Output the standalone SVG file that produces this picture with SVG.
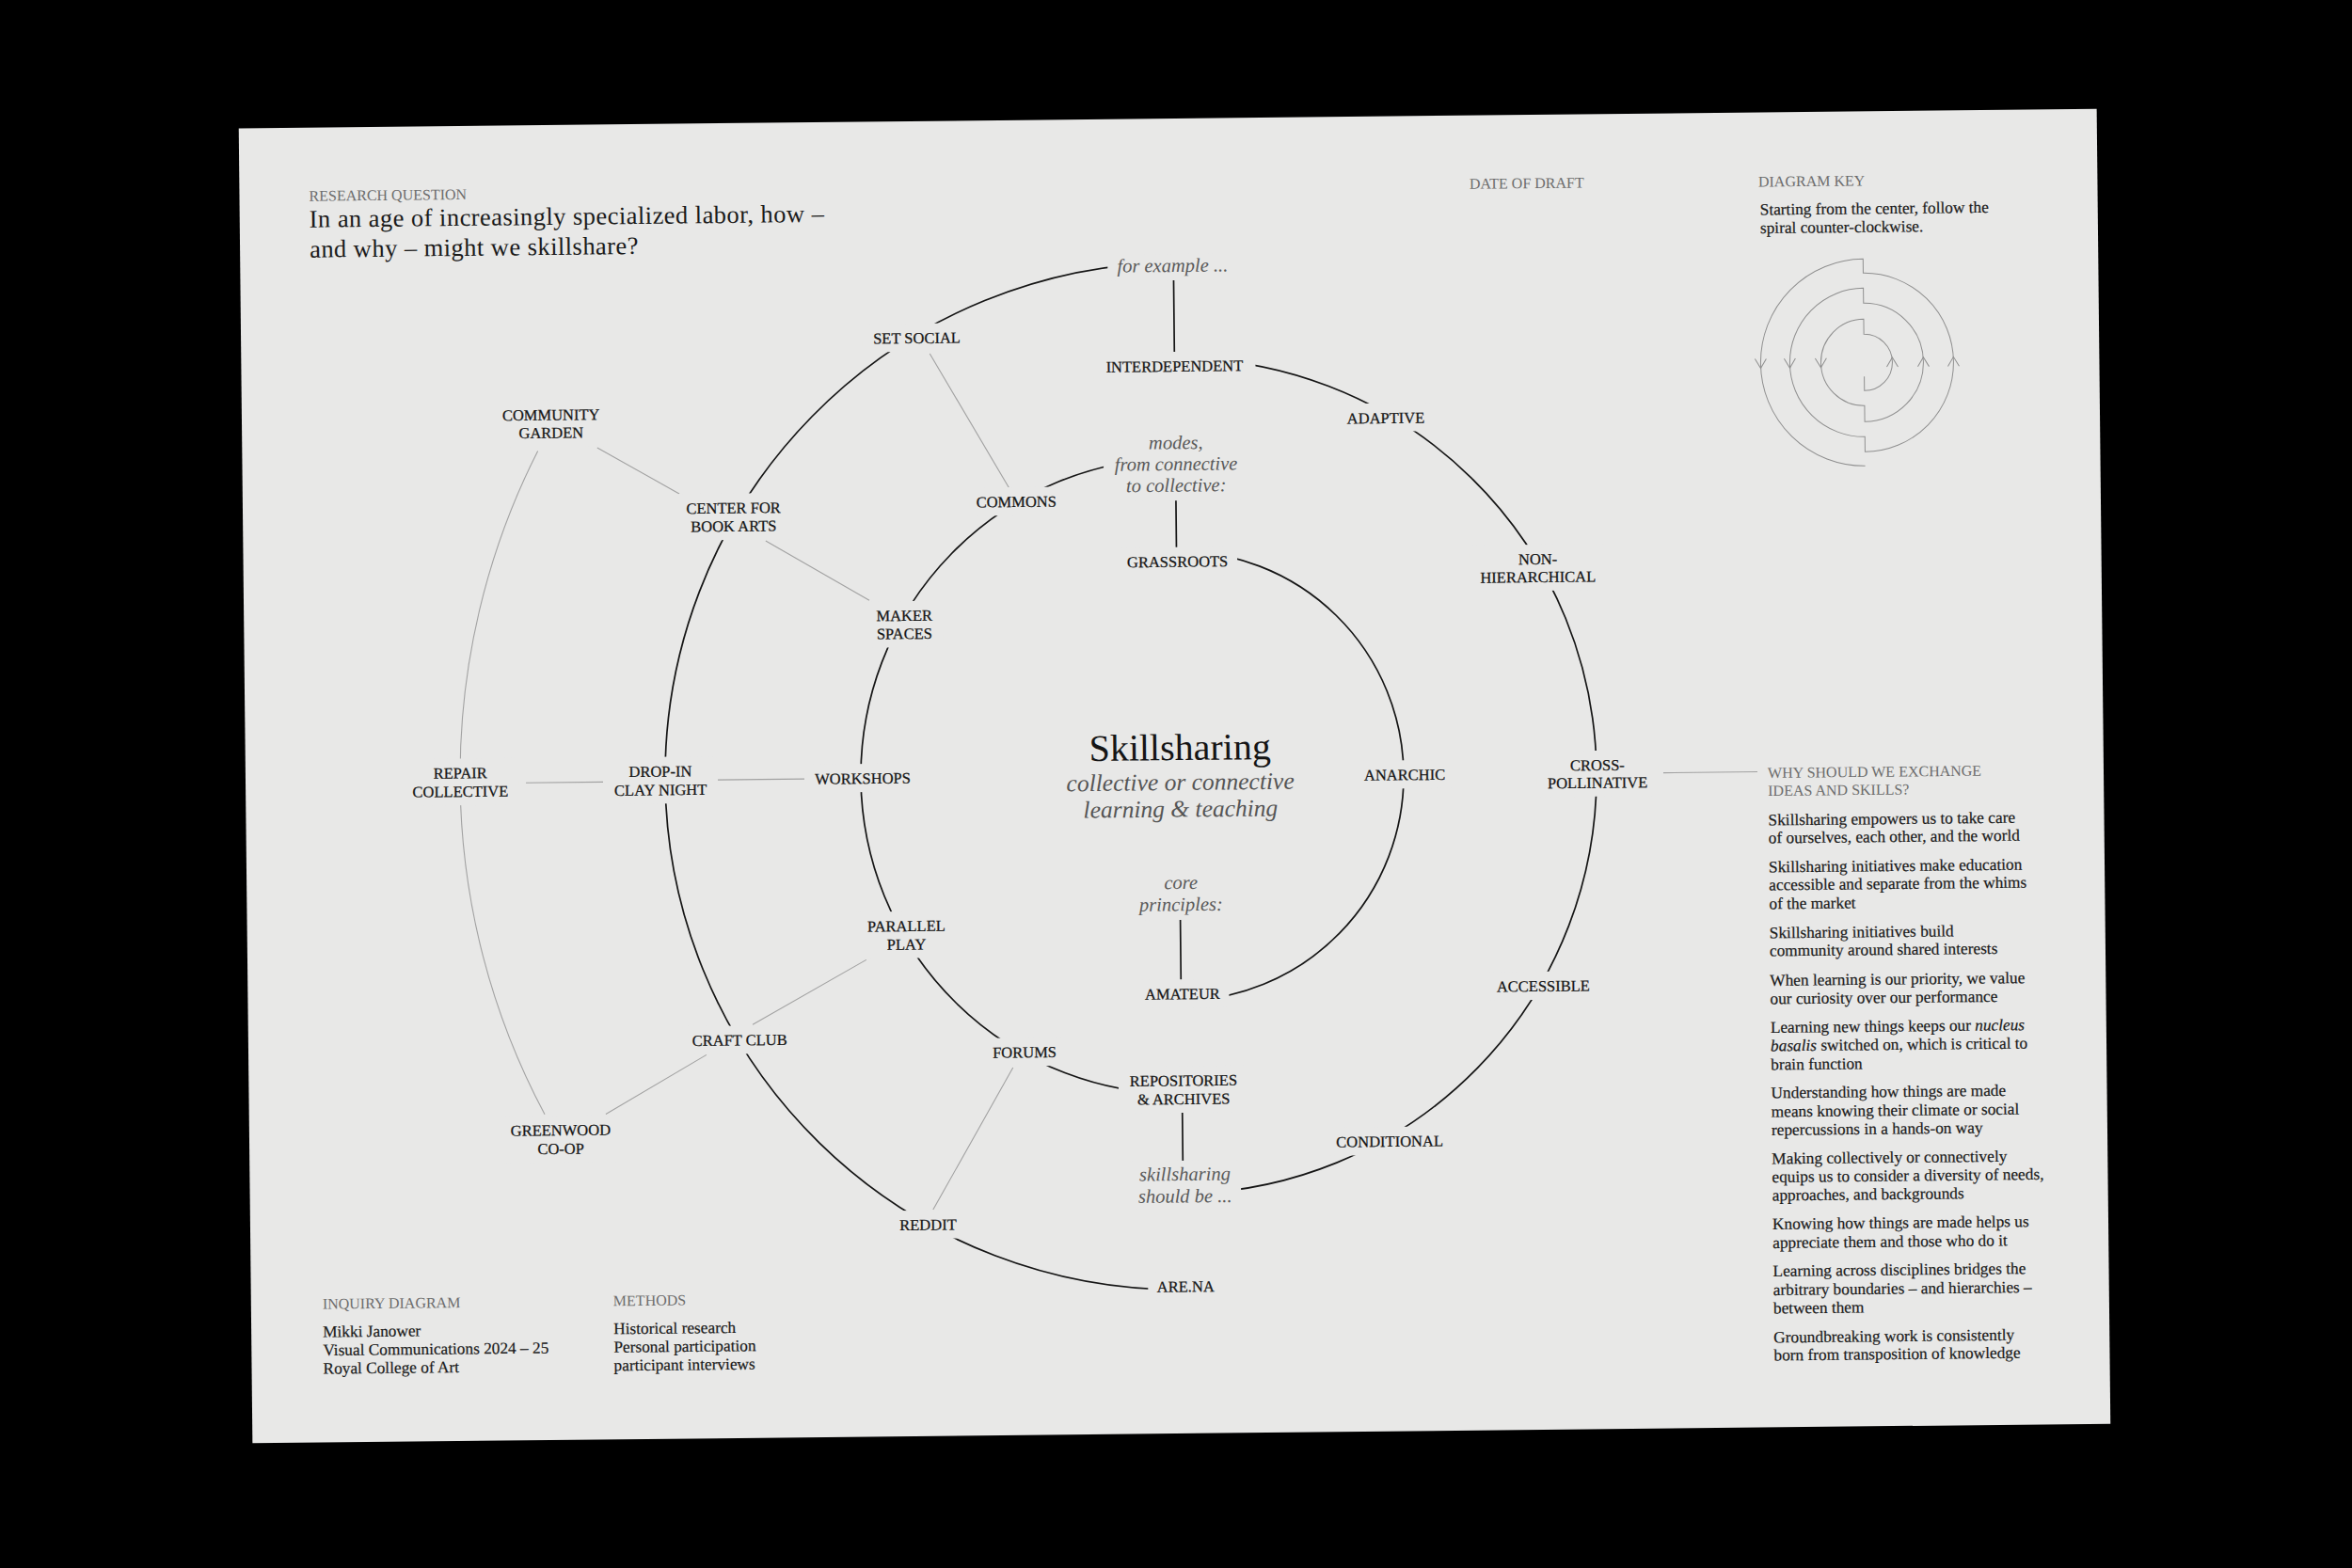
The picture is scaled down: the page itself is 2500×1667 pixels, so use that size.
<svg xmlns="http://www.w3.org/2000/svg" width="2500" height="1667" viewBox="0 0 2500 1667">
<style>
  .paper{fill:#e8e8e7}
  .ko{fill:#e8e8e7}
  text{font-family:'Liberation Serif','Times New Roman',serif}
  .lbl{font-size:16.5px;fill:#161616;stroke:#161616;stroke-width:0.25;text-anchor:middle}
  .it{font-style:italic;font-size:20.5px;fill:#5a5a5a;text-anchor:middle}
  .head{font-size:16px;fill:#6d6d6d}
  .body{font-size:17.3px;fill:#1b1b1b;stroke:#1b1b1b;stroke-width:0.2}
  .arc{fill:none;stroke:#151515;stroke-width:1.7}
  .thin{fill:none;stroke:#a2a2a2;stroke-width:1.1}
  .key{fill:none;stroke:#8f8f8f;stroke-width:1}
</style>
<rect width="2500" height="1667" fill="#000"/>
<g transform="rotate(-0.6 1253 825)">
  <rect class="paper" x="261" y="126" width="1975" height="1398"/>

  <!-- header -->
  <g id="research-question">
    <text class="head" x="335" y="204">RESEARCH QUESTION</text>
    <text x="335" y="232" font-size="26.5" fill="#1b1b1b" letter-spacing="0.45">In an age of increasingly specialized labor, how –</text>
    <text x="335" y="264" font-size="26.5" fill="#1b1b1b" letter-spacing="0.45">and why – might we skillshare?</text>
  </g>
  <text class="head" x="1568.5" y="204">DATE OF DRAFT</text>

  <!-- key -->
  <g id="diagram-key">
    <text class="head" x="1875.5" y="205">DIAGRAM KEY</text>
    <text class="body" x="1877" y="235">Starting from the center, follow the</text>
    <text class="body" x="1877" y="254.5">spiral counter-clockwise.</text>
    <path class="key" d="M1986,408 V423 A30,30 0 0 0 1986,363 V347 A46,46 0 0 0 1986,439 V456 A63,63 0 0 0 1986,330 V314 A79,79 0 0 0 1986,472 V488 A95,95 0 0 0 1986,298 V283 A110,110 0 0 0 1986,503"/>
    <path class="key" d="M2010,398 L2016,388 L2022,398 M2043,398 L2049,388 L2055,398 M2075,398 L2081,388 L2087,398 M1934,388 L1940,398 L1946,388 M1901,388 L1907,398 L1913,388 M1870,388 L1876,398 L1882,388"/>
  </g>

  <!-- connectors: spiral arcs, spokes and thin branch lines -->
  <g id="connectors">
    <path class="arc" d="M1253,1064 A239,239 0 0 0 1253,586"/>
    <path class="arc" d="M1253,487 A338,338 0 0 0 1253,1163"/>
    <path class="arc" d="M1253,1269 A444,444 0 0 0 1253,381"/>
    <path class="arc" d="M1253,279 A546,546 0 0 0 1253,1371"/>
    <path class="arc" d="M1253,298 V374 M1253,532 V582 M1253,978 V1042 M1253,1183 V1234"/>
    <path class="thin" d="M575.3,472.3 A764,764 0 0 0 575.3,1177.7"/>
    <path class="thin" d="M993,373.2 L1075.5,516.4 M638.5,469.5 L725.2,519.4 M816.5,570.4 L926,634.8 M559,825 L641,825 M763,824 L855,824 M918.8,1016.9 L797.3,1084.5 M747.9,1116.1 L640.2,1178.2 M1073.5,1133.2 L987,1283.3 M1768,827 L1868,827"/>
  </g>

  <!-- nodes -->
  <g id="nodes">
    <g id="n-for-example"><rect class="ko" x="1183" y="270" width="138" height="28"/><text class="it" x="1252" y="289">for example ...</text></g>
    <g id="n-interdependent"><rect class="ko" x="1167" y="374" width="172" height="30"/><text class="lbl" x="1253" y="395">INTERDEPENDENT</text></g>
    <g id="n-adaptive"><rect class="ko" x="1426" y="431" width="102" height="30"/><text class="lbl" x="1477" y="452.3">ADAPTIVE</text></g>
    <g id="n-non-hierarchical"><rect class="ko" x="1564" y="583" width="146" height="49"/><text class="lbl" x="1637" y="604">NON-</text><text class="lbl" x="1637" y="623">HIERARCHICAL</text></g>
    <g id="n-cross-pollinative"><rect class="ko" x="1633.5" y="802.7" width="129" height="48.7"/><text class="lbl" x="1698" y="823.7">CROSS-</text><text class="lbl" x="1698" y="842.4">POLLINATIVE</text></g>
    <g id="n-accessible"><rect class="ko" x="1577.5" y="1037" width="121" height="30"/><text class="lbl" x="1638" y="1058">ACCESSIBLE</text></g>
    <g id="n-conditional"><rect class="ko" x="1406.5" y="1200.4" width="133" height="30"/><text class="lbl" x="1473" y="1221.4">CONDITIONAL</text></g>
    <g id="n-should-be"><rect class="ko" x="1195.5" y="1234" width="119" height="51.4"/><text class="it" x="1255" y="1255">skillsharing</text><text class="it" x="1255" y="1278.4">should be ...</text></g>
    <g id="n-repositories"><rect class="ko" x="1185.5" y="1133.4" width="138" height="49.6"/><text class="lbl" x="1254.5" y="1154.4">REPOSITORIES</text><text class="lbl" x="1254.5" y="1174">&amp; ARCHIVES</text></g>
    <g id="n-forums"><rect class="ko" x="1042.8" y="1101.6" width="86.4" height="30"/><text class="lbl" x="1086" y="1122.6">FORUMS</text></g>
    <g id="n-parallel-play"><rect class="ko" x="909.2" y="966" width="105" height="49.6"/><text class="lbl" x="961.7" y="987">PARALLEL</text><text class="lbl" x="961.7" y="1006.6">PLAY</text></g>
    <g id="n-workshops"><rect class="ko" x="856.5" y="808.7" width="121" height="30"/><text class="lbl" x="917" y="829.7">WORKSHOPS</text></g>
    <g id="n-maker-spaces"><rect class="ko" x="922" y="636" width="82" height="49.2"/><text class="lbl" x="963" y="657">MAKER</text><text class="lbl" x="963" y="676.2">SPACES</text></g>
    <g id="n-commons"><rect class="ko" x="1033.6" y="516.2" width="99.3" height="30"/><text class="lbl" x="1083.3" y="537.2">COMMONS</text></g>
    <g id="n-modes"><rect class="ko" x="1176.5" y="458.3" width="154" height="73.9"/><text class="it" x="1253.5" y="477.3">modes,</text><text class="it" x="1253.5" y="500">from connective</text><text class="it" x="1253.5" y="522.7">to collective:</text></g>
    <g id="n-grassroots"><rect class="ko" x="1190.5" y="581.7" width="127" height="30"/><text class="lbl" x="1254" y="602.7">GRASSROOTS</text></g>
    <g id="n-anarchic"><rect class="ko" x="1440" y="810.8" width="106" height="30"/><text class="lbl" x="1493" y="831.8">ANARCHIC</text></g>
    <g id="n-amateur"><rect class="ko" x="1205" y="1041.3" width="99" height="30"/><text class="lbl" x="1254.5" y="1062.3">AMATEUR</text></g>
    <g id="n-core-principles"><rect class="ko" x="1200" y="926" width="108" height="52"/><text class="it" x="1254" y="945">core</text><text class="it" x="1254" y="968.3">principles:</text></g>
    <g id="n-skillsharing">
      <text x="1254.5" y="808" font-size="40" fill="#151515" text-anchor="middle">Skillsharing</text>
      <text x="1254.5" y="840" font-size="25.5" font-style="italic" fill="#555" text-anchor="middle">collective or connective</text>
      <text x="1254.5" y="868.5" font-size="25.5" font-style="italic" fill="#555" text-anchor="middle">learning &amp; teaching</text>
    </g>
    <g id="n-set-social"><rect class="ko" x="921.4" y="341.1" width="116" height="30"/><text class="lbl" x="979.4" y="362.1">SET SOCIAL</text></g>
    <g id="n-center-book-arts"><rect class="ko" x="721" y="519.7" width="123.3" height="49.3"/><text class="lbl" x="782.6" y="540.7">CENTER FOR</text><text class="lbl" x="782.6" y="560">BOOK ARTS</text></g>
    <g id="n-drop-in"><rect class="ko" x="642.2" y="798.9" width="119.6" height="49.7"/><text class="lbl" x="702" y="819.9">DROP-IN</text><text class="lbl" x="702" y="839.6">CLAY NIGHT</text></g>
    <g id="n-craft-club"><rect class="ko" x="722.8" y="1085.5" width="121" height="30"/><text class="lbl" x="783.3" y="1106.5">CRAFT CLUB</text></g>
    <g id="n-reddit"><rect class="ko" x="941" y="1283.9" width="81" height="30"/><text class="lbl" x="981.5" y="1304.9">REDDIT</text></g>
    <g id="n-arena"><rect class="ko" x="1214.6" y="1352.4" width="80" height="30"/><text class="lbl" x="1254.6" y="1373.4">ARE.NA</text></g>
    <g id="n-community-garden"><rect class="ko" x="530.2" y="418.7" width="119" height="49"/><text class="lbl" x="589.7" y="439.7">COMMUNITY</text><text class="lbl" x="589.7" y="458.7">GARDEN</text></g>
    <g id="n-repair-collective"><rect class="ko" x="427.2" y="798.5" width="124.2" height="49.6"/><text class="lbl" x="489.3" y="819.5">REPAIR</text><text class="lbl" x="489.3" y="839.1">COLLECTIVE</text></g>
    <g id="n-greenwood"><rect class="ko" x="529.6" y="1179.2" width="124.7" height="49.7"/><text class="lbl" x="592" y="1200.2">GREENWOOD</text><text class="lbl" x="592" y="1219.9">CO-OP</text></g>
  </g>

  <!-- reasons column -->
  <g id="reasons">
    <text class="head" x="1879" y="833.5" font-size="16.5">WHY SHOULD WE EXCHANGE</text>
    <text class="head" x="1879" y="852.6" font-size="16.5">IDEAS AND SKILLS?</text>
    <text class="body" x="1879" y="884">Skillsharing empowers us to take care</text>
    <text class="body" x="1879" y="903">of ourselves, each other, and the world</text>
    <text class="body" x="1879" y="934">Skillsharing initiatives make education</text>
    <text class="body" x="1879" y="953">accessible and separate from the whims</text>
    <text class="body" x="1879" y="973">of the market</text>
    <text class="body" x="1879" y="1004">Skillsharing initiatives build</text>
    <text class="body" x="1879" y="1023">community around shared interests</text>
    <text class="body" x="1879" y="1054.5">When learning is our priority, we value</text>
    <text class="body" x="1879" y="1074">our curiosity over our performance</text>
    <text class="body" x="1879" y="1104.5">Learning new things keeps our <tspan font-style="italic">nucleus</tspan></text>
    <text class="body" x="1879" y="1124"><tspan font-style="italic">basalis</tspan> switched on, which is critical to</text>
    <text class="body" x="1879" y="1144">brain function</text>
    <text class="body" x="1879" y="1174">Understanding how things are made</text>
    <text class="body" x="1879" y="1194">means knowing their climate or social</text>
    <text class="body" x="1879" y="1213.5">repercussions in a hands-on way</text>
    <text class="body" x="1879" y="1244">Making collectively or connectively</text>
    <text class="body" x="1879" y="1263.5">equips us to consider a diversity of needs,</text>
    <text class="body" x="1879" y="1283">approaches, and backgrounds</text>
    <text class="body" x="1879" y="1313.5">Knowing how things are made helps us</text>
    <text class="body" x="1879" y="1333.5">appreciate them and those who do it</text>
    <text class="body" x="1879" y="1363.5">Learning across disciplines bridges the</text>
    <text class="body" x="1879" y="1383.5">arbitrary boundaries – and hierarchies –</text>
    <text class="body" x="1879" y="1403">between them</text>
    <text class="body" x="1879" y="1434">Groundbreaking work is consistently</text>
    <text class="body" x="1879" y="1453">born from transposition of knowledge</text>
  </g>

  <!-- footer -->
  <g id="footer">
    <text class="head" x="337" y="1382">INQUIRY DIAGRAM</text>
    <text class="body" x="337" y="1412">Mikki Janower</text>
    <text class="body" x="337" y="1431.5">Visual Communications 2024 – 25</text>
    <text class="body" x="337" y="1451">Royal College of Art</text>
    <text class="head" x="646" y="1382">METHODS</text>
    <text class="body" x="646" y="1412">Historical research</text>
    <text class="body" x="646" y="1431.5">Personal participation</text>
    <text class="body" x="646" y="1451">participant interviews</text>
  </g>
</g>
</svg>
